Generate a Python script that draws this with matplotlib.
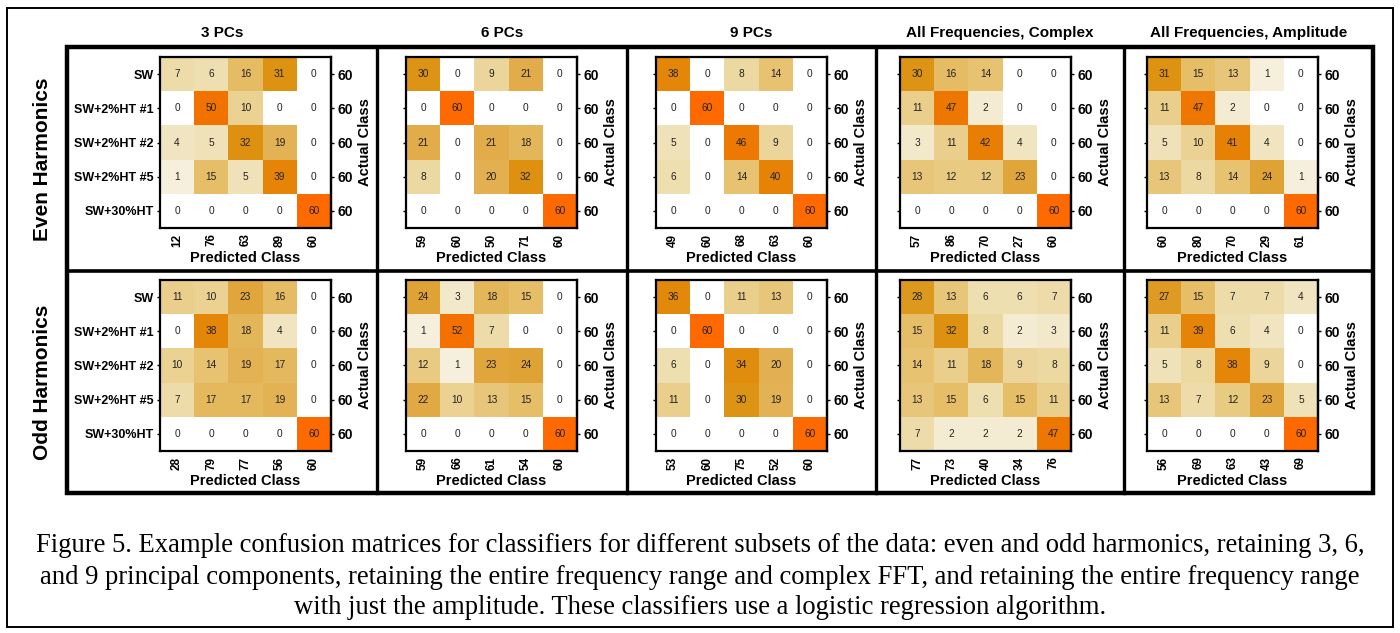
import numpy as np
import matplotlib
matplotlib.use('Agg')
import matplotlib.pyplot as plt
from matplotlib.colors import LinearSegmentedColormap
from matplotlib.lines import Line2D
from matplotlib.patches import Rectangle

# ---- data ----
classes = ['SW', 'SW+2%HT #1', 'SW+2%HT #2', 'SW+2%HT #5', 'SW+30%HT']
col_titles = ['3 PCs', '6 PCs', '9 PCs', 'All Frequencies, Complex', 'All Frequencies, Amplitude']
row_titles = ['Even Harmonics', 'Odd Harmonics']

even_3pc = [[7, 6, 16, 31, 0], [0, 50, 10, 0, 0], [4, 5, 32, 19, 0], [1, 15, 5, 39, 0], [0, 0, 0, 0, 60]]
even_6pc = [[30, 0, 9, 21, 0], [0, 60, 0, 0, 0], [21, 0, 21, 18, 0], [8, 0, 20, 32, 0], [0, 0, 0, 0, 60]]
even_9pc = [[38, 0, 8, 14, 0], [0, 60, 0, 0, 0], [5, 0, 46, 9, 0], [6, 0, 14, 40, 0], [0, 0, 0, 0, 60]]
even_cplx = [[30, 16, 14, 0, 0], [11, 47, 2, 0, 0], [3, 11, 42, 4, 0], [13, 12, 12, 23, 0], [0, 0, 0, 0, 60]]
even_ampl = [[31, 15, 13, 1, 0], [11, 47, 2, 0, 0], [5, 10, 41, 4, 0], [13, 8, 14, 24, 1], [0, 0, 0, 0, 60]]

odd_3pc = [[11, 10, 23, 16, 0], [0, 38, 18, 4, 0], [10, 14, 19, 17, 0], [7, 17, 17, 19, 0], [0, 0, 0, 0, 60]]
odd_6pc = [[24, 3, 18, 15, 0], [1, 52, 7, 0, 0], [12, 1, 23, 24, 0], [22, 10, 13, 15, 0], [0, 0, 0, 0, 60]]
odd_9pc = [[36, 0, 11, 13, 0], [0, 60, 0, 0, 0], [6, 0, 34, 20, 0], [11, 0, 30, 19, 0], [0, 0, 0, 0, 60]]
odd_cplx = [[28, 13, 6, 6, 7], [15, 32, 8, 2, 3], [14, 11, 18, 9, 8], [13, 15, 6, 15, 11], [7, 2, 2, 2, 47]]
odd_ampl = [[27, 15, 7, 7, 4], [11, 39, 6, 4, 0], [5, 8, 38, 9, 0], [13, 7, 12, 23, 5], [0, 0, 0, 0, 60]]

matrices = [[even_3pc, even_6pc, even_9pc, even_cplx, even_ampl],
            [odd_3pc, odd_6pc, odd_9pc, odd_cplx, odd_ampl]]

caption_lines = [
    "Figure 5. Example confusion matrices for classifiers for different subsets of the data: even and odd harmonics, retaining 3, 6,",
    "and 9 principal components, retaining the entire frequency range and complex FFT, and retaining the entire frequency range",
    "with just the amplitude. These classifiers use a logistic regression algorithm.",
]

# ---- style ----
W, H = 1400, 633
plt.rcParams['font.family'] = ['Liberation Sans', 'DejaVu Sans']
cmap = LinearSegmentedColormap.from_list('conf', [
    (0.0, '#ffffff'), (1 / 60, '#f5efda'), (5 / 60, '#efe2b8'), (10 / 60, '#ebd293'),
    (15 / 60, '#e6bf68'), (20 / 60, '#e2b050'), (25 / 60, '#df9f2e'), (30 / 60, '#dd9414'),
    (40 / 60, '#e68306'), (50 / 60, '#f27300'), (1.0, '#ff6a00')])

fig = plt.figure(figsize=(W / 100, H / 100), dpi=100)


def fx(x):
    return x / W


def fy(y):
    return 1 - y / H


# table frame
tab_l, tab_r, tab_t, tab_b, tab_mid = 67, 1373, 47, 493, 271
col_sep = [377, 627, 876, 1124]
edges = [tab_l] + col_sep + [tab_r]

# heatmap boxes
hm_left = [160, 406, 656, 900, 1147]
hm_top = [57, 280]
hm_size = 171

for r in range(2):
    for c in range(5):
        mat = np.array(matrices[r][c])
        ax = fig.add_axes([fx(hm_left[c]), fy(hm_top[r] + hm_size), fx(hm_size), hm_size / H])
        ax.imshow(mat, cmap=cmap, vmin=0, vmax=60, aspect='auto', interpolation='nearest')
        for i in range(5):
            for j in range(5):
                ax.text(j, i, str(mat[i, j]), ha='center', va='center', fontsize=7.3, color='#222222')
        ax.set_yticks(range(5))
        if c == 0:
            ax.set_yticklabels(classes, fontsize=9, fontweight='bold')
        else:
            ax.set_yticklabels([])
        ax.set_xticks(range(5))
        ax.set_xticklabels(mat.sum(axis=0), rotation=90, fontsize=8.5, fontweight='bold')
        ax.tick_params(axis='x', length=0, pad=4, top=True)
        ax.tick_params(axis='x', which='both', top=True, direction='in')
        ax.tick_params(axis='y', length=2.5, width=1, pad=2)
        ax.set_xlabel('Predicted Class', fontsize=10.5, fontweight='bold', labelpad=3)
        for s in ax.spines.values():
            s.set_linewidth(1.6)
        sec = ax.secondary_yaxis('right')
        sec.set_yticks(range(5))
        sec.set_yticklabels(mat.sum(axis=1), fontsize=10, fontweight='bold')
        sec.tick_params(length=2.5, width=1, pad=2)
        sec.spines['right'].set_linewidth(1.6)
        sec.set_ylabel('Actual Class', fontsize=10.5, fontweight='bold', labelpad=4)

# column and row titles
for c in range(5):
    fig.text(fx((edges[c] + edges[c + 1]) / 2), fy(33), col_titles[c], ha='center', va='center',
             fontsize=11, fontweight='bold')
for r, (yt, yb) in enumerate([(tab_t, tab_mid), (tab_mid, tab_b)]):
    fig.text(fx(43), fy((yt + yb) / 2), row_titles[r], ha='center', va='center', rotation=90,
             fontsize=15, fontweight='bold')

# frame lines
fig.add_artist(Rectangle((fx(tab_l), fy(tab_b)), fx(tab_r - tab_l), (tab_b - tab_t) / H,
                         transform=fig.transFigure, fill=False, lw=3.2, ec='black'))
for x in col_sep:
    fig.add_artist(Line2D([fx(x), fx(x)], [fy(tab_t), fy(tab_b)], transform=fig.transFigure,
                          lw=2.4, color='black'))
fig.add_artist(Line2D([fx(tab_l), fx(tab_r)], [fy(tab_mid), fy(tab_mid)], transform=fig.transFigure,
                      lw=2.6, color='black'))
fig.add_artist(Rectangle((fx(7), fy(627)), fx(1386), 619 / H, transform=fig.transFigure,
                         fill=False, lw=1.4, ec='black'))

# caption
for line, yc in zip(caption_lines, [546, 577, 607]):
    fig.text(0.5, fy(yc), line, ha='center', va='center', fontsize=19.2,
             family=['Liberation Serif', 'DejaVu Serif'])

fig.savefig('out.png', dpi=100)
